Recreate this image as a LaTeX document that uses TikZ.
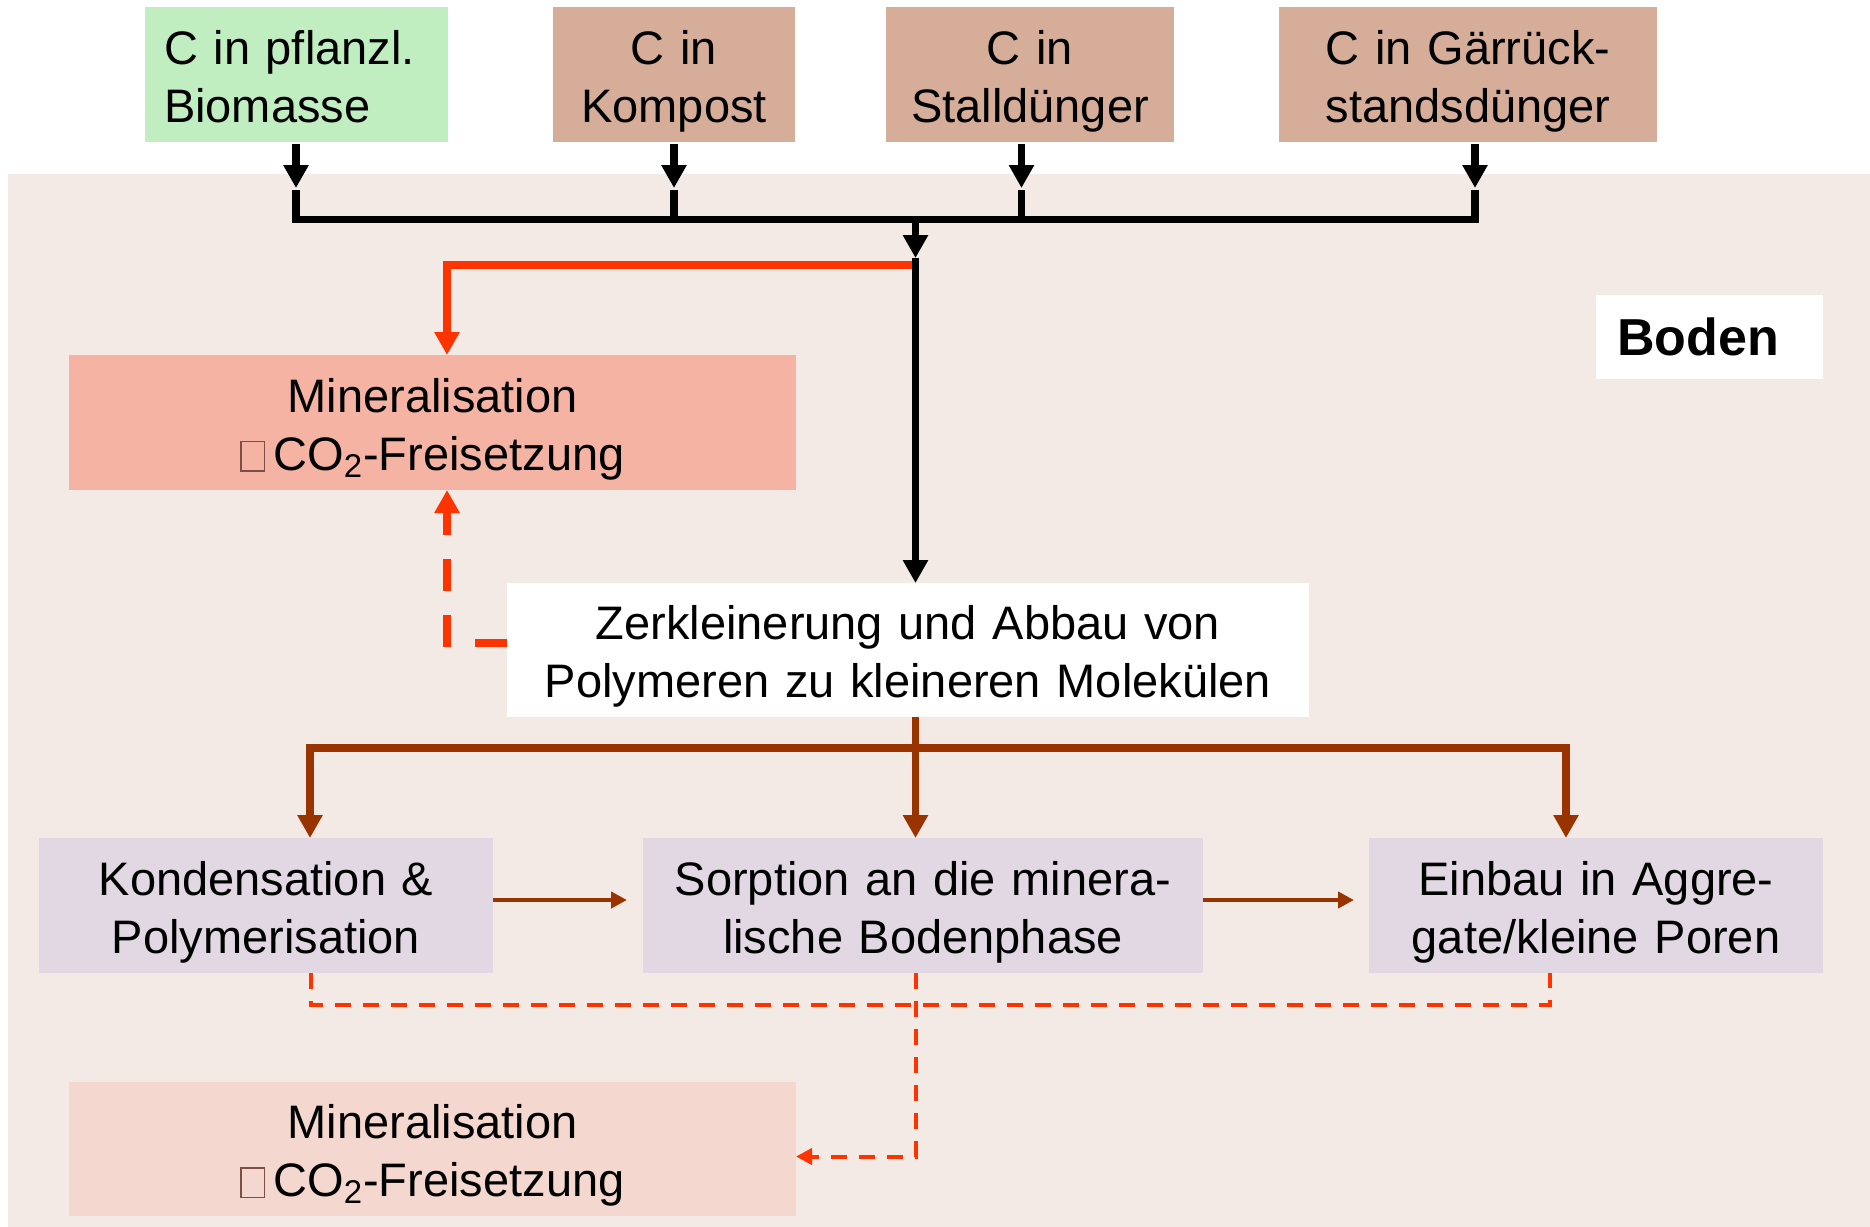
\documentclass[tikz,border=0pt]{standalone}
\usepackage{fontspec}
\setmainfont{Liberation Sans}
\usetikzlibrary{arrows.meta}

\definecolor{soilbg}{HTML}{F3EAE5}
\definecolor{plantgreen}{HTML}{C0EEC0}
\definecolor{tanbox}{HTML}{D5AD99}
\definecolor{salmonbox}{HTML}{F5B4A3}
\definecolor{lavbox}{HTML}{E1D8E3}
\definecolor{palesalmon}{HTML}{F4D7CE}
\definecolor{redline}{HTML}{FF3300}
\definecolor{brownline}{HTML}{993300}
\definecolor{tofucol}{HTML}{7B4F45}

\newcommand{\tofu}{\textcolor{tofucol}{\fboxsep=0pt\fboxrule=0.75pt\fbox{\rule{0pt}{14pt}\hspace{11pt}}}\hspace{4pt}}

\begin{document}
\begin{tikzpicture}[x=0.5pt,y=-0.5pt,
  box/.style={inner sep=0pt, outer sep=0pt, align=center, text=black,
    font=\fontsize{23.5}{29}\selectfont, minimum height=67.5pt,
    execute at begin node={\rule{0pt}{24pt}},
    execute at end node={\rule[-5.5pt]{0pt}{5.5pt}}},
  label box/.style={inner ysep=0pt, outer sep=0pt, align=left, text=black,
    font=\fontsize{26}{30}\selectfont\bfseries},
  blk/.style={draw=black, line width=3.75pt},
  redthick/.style={draw=redline, line width=3.75pt},
  reddash/.style={draw=redline, line width=3.75pt, dash pattern=on 16pt off 12pt},
  reddashthin/.style={draw=redline, line width=2pt, dash pattern=on 8pt off 6pt},
  brownthick/.style={draw=brownline, line width=3.75pt},
  brownthin/.style={draw=brownline, line width=2pt},
  bigtip/.style={-{Triangle[length=11.5pt,width=12pt]}},
  smalltip/.style={-{Triangle[length=8pt,width=8pt]}}
]
\useasboundingbox (0,0) rectangle (1870,1227);
\fill[soilbg] (8,174) rectangle (1870,1227);

% top boxes
\node[box, fill=plantgreen, minimum width=151.5pt, align=left, inner xsep=9.5pt, text width=132.5pt] (bio) at (296.5,74.5) {C in pflanzl.\\Biomasse};
\node[box, fill=tanbox, minimum width=121pt, text width=121pt] (komp) at (674,74.5) {C in\\Kompost};
\node[box, fill=tanbox, minimum width=144pt, text width=144pt] (stall) at (1030,74.5) {C in\\Stalldünger};
\node[box, fill=tanbox, minimum width=189pt, text width=189pt] (gaer) at (1468,74.5) {C in Gärrück-\\standsdünger};

% middle boxes
\node[box, fill=salmonbox, minimum width=363.5pt, text width=363.5pt] (min1) at (432.5,422.5) {Mineralisation\\\tofu CO\textsubscript{2}-Freisetzung};
\node[box, fill=white, minimum width=401pt, text width=401pt, minimum height=67pt] (zerk) at (908,650) {Zerkleinerung und Abbau von\\Polymeren zu kleineren Molekülen};
\node[label box, fill=white, minimum width=113.5pt, minimum height=42pt, inner xsep=10.5pt, text width=92.5pt] (boden) at (1709.5,337) {Boden};

% lower boxes
\node[box, fill=lavbox, minimum width=227pt, text width=227pt] (kond) at (266,905.5) {Kondensation \&\\Polymerisation};
\node[box, fill=lavbox, minimum width=280pt, text width=280pt] (sorp) at (923,905.5) {Sorption an die minera-\\lische Bodenphase};
\node[box, fill=lavbox, minimum width=227pt, text width=227pt] (einb) at (1596,905.5) {Einbau in Aggre-\\gate/kleine Poren};
\node[box, fill=palesalmon, minimum width=363.5pt, text width=363.5pt, minimum height=67pt] (min2) at (432.5,1149) {Mineralisation\\\tofu CO\textsubscript{2}-Freisetzung};

% coordinates
\coordinate (a1) at (296,188);  \coordinate (c1) at (296,190);  \coordinate (b1) at (296,219.5);
\coordinate (a2) at (674,188);  \coordinate (c2) at (674,190);  \coordinate (b2) at (674,219.5);
\coordinate (a3) at (1021.5,188); \coordinate (c3) at (1021.5,190); \coordinate (b3) at (1021.5,219.5);
\coordinate (a4) at (1475,188); \coordinate (c4) at (1475,190); \coordinate (b4) at (1475,219.5);
\coordinate (bm) at (915.5,219.5);
\coordinate (m1) at (915.5,258);
\coordinate (r0) at (915.5,265);
\coordinate (r1) at (447,265);
\coordinate (d1) at (447,643);
\coordinate (g0) at (915.5,748);
\coordinate (g1) at (310,748);
\coordinate (g3) at (1566,748);
\coordinate (hy) at (0,900);
\coordinate (l1) at (311,1005);
\coordinate (l3) at (1550,1005);
\coordinate (l4) at (915.5,1156.5);

% red branch to first mineralisation (under black)
\draw[redthick, bigtip, line join=miter] (r0) -- (r1) -- (min1.north -| r1);

% top arrows and bus
\draw[blk, bigtip] (bio.south -| a1) ++(0,2) -- (a1);
\draw[blk, bigtip] (komp.south -| a2) ++(0,2) -- (a2);
\draw[blk, bigtip] (stall.south -| a3) ++(0,2) -- (a3);
\draw[blk, bigtip] (gaer.south -| a4) ++(0,2) -- (a4);
\draw[blk, line join=miter] (c1) -- (b1) -- (b4) -- (c4);
\draw[blk] (c2) -- (b2);
\draw[blk] (c3) -- (b3);
\draw[blk, bigtip] (bm) -- (m1);
\draw[blk, bigtip] (m1) -- (zerk.north -| m1);

% dashed feedback from Zerkleinerung to Mineralisation
\draw[reddash, bigtip, line join=miter] (zerk.west |- d1) -- (d1) -- (min1.south -| d1);

% brown distribution
\draw[brownthick, {Triangle[length=11.5pt,width=12pt]}-{Triangle[length=11.5pt,width=12pt]}, line join=miter]
  (kond.north -| g1) -- (g1) -- (g3) -- (einb.north -| g3);
\draw[brownthick, bigtip] (zerk.south -| g0) -- (sorp.north -| g0);

% thin brown arrows between lower boxes
\draw[brownthin, smalltip, shorten >=8pt] (kond.east |- hy) -- (sorp.west |- hy);
\draw[brownthin, smalltip, shorten >=7.5pt] (sorp.east |- hy) -- (einb.west |- hy);

% thin dashed red lines to second mineralisation
\draw[reddashthin, line join=miter] (kond.south -| l1) -- (l1) -- (l3) -- (einb.south -| l3);
\draw[reddashthin, smalltip, line join=miter] (sorp.south -| l4) -- (l4) -- (min2.east |- l4);
\end{tikzpicture}
\end{document}
